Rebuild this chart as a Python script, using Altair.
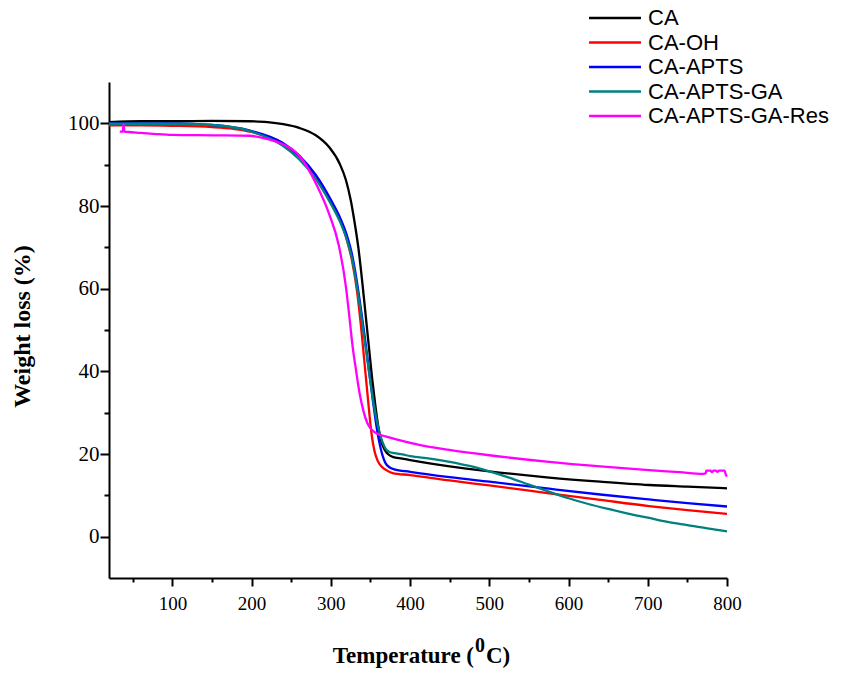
import altair as alt
import pandas as pd

series_names = ["CA", "CA-OH", "CA-APTS", "CA-APTS-GA", "CA-APTS-GA-Res"]
series_colors = ["#000000", "#ff0000", "#0000ff", "#008080", "#ff00ff"]

ca_t = [20, 60, 100, 150, 197, 220, 240, 260, 281, 298, 311, 319, 325, 330, 335, 340, 344, 348, 352, 356, 360, 364, 368, 372, 378, 390, 413, 450, 500, 575.5, 640, 701.5, 750, 800]
ca_v = [100.3, 100.5, 100.5, 100.6, 100.5, 100.3, 99.8, 98.9, 97.1, 94.2, 90.3, 86.3, 81.5, 76.0, 69.5, 61.0, 53.5, 46.0, 38.5, 32.0, 26.5, 22.8, 21.0, 20.0, 19.3, 18.9, 18.1, 17.0, 15.8, 14.3, 13.3, 12.5, 12.1, 11.7]

oh_t = [20, 60, 100, 150, 176, 200, 239, 260, 281, 300, 312, 320, 327, 333, 338, 342, 346, 349, 352, 355, 359, 364, 370, 378, 400, 450, 500, 575.5, 640, 701.5, 750, 800]
oh_v = [99.5, 99.5, 99.4, 99.1, 98.7, 97.9, 94.8, 92.0, 87.3, 81.2, 76.5, 72.0, 66.5, 59.5, 51.0, 43.0, 35.0, 29.0, 24.0, 20.8, 18.4, 17.0, 16.1, 15.4, 14.9, 13.6, 12.4, 10.5, 8.9, 7.4, 6.4, 5.5]

apts_t = [20, 60, 100, 150, 197, 239, 260, 281, 300, 312, 320, 327, 333, 338, 343, 348, 353, 357, 361, 365, 369, 374, 380, 400, 450, 500, 575.5, 640, 701.5, 750, 800]
apts_v = [100.0, 100.0, 100.0, 99.6, 98.3, 95.3, 92.2, 87.5, 81.5, 77.0, 73.0, 68.0, 61.5, 55.0, 48.0, 40.5, 33.0, 27.5, 23.0, 19.8, 17.8, 16.8, 16.3, 15.7, 14.4, 13.3, 11.6, 10.2, 9.0, 8.1, 7.3]

ga_t = [20, 60, 100, 150, 200, 239, 260, 281, 300, 312, 320, 327, 333, 338, 343, 348, 353, 357, 361, 365, 369, 374, 380, 390, 400, 425, 450, 475, 500, 525, 550, 575, 600, 625, 650, 675, 700, 725, 750, 775, 800]
ga_v = [99.9, 99.9, 99.9, 99.6, 98.0, 94.6, 91.3, 86.5, 80.5, 76.0, 72.0, 67.0, 60.5, 54.0, 47.0, 40.0, 33.5, 29.0, 25.5, 23.0, 21.3, 20.5, 20.2, 19.9, 19.5, 18.9, 18.1, 17.1, 15.8, 14.3, 12.6, 10.9, 9.3, 7.9, 6.7, 5.6, 4.6, 3.6, 2.8, 2.0, 1.3]

res_t = [33.6, 37.5, 38.2, 39.5, 45, 60, 80, 100, 150, 197, 218, 239, 260, 281, 298, 310, 319, 323.5, 327.5, 332, 336, 341, 346, 352, 360, 370, 385, 411.6, 449.5, 500, 575.5, 640, 701.5, 740, 770, 773, 774, 779, 781, 783, 786, 788, 790, 797, 798.5, 800]
res_v = [98.0, 98.0, 99.8, 98.0, 97.9, 97.7, 97.4, 97.2, 97.1, 97.0, 96.3, 95.0, 92.2, 85.5, 78.0, 70.5, 60.5, 53.0, 46.0, 40.0, 35.0, 30.5, 27.5, 25.8, 24.8, 24.2, 23.4, 22.2, 21.0, 19.7, 18.1, 17.0, 16.1, 15.6, 15.2, 15.3, 16.0, 16.0, 15.6, 16.0, 16.0, 15.7, 16.0, 16.0, 15.0, 14.6]

x_major = [100, 200, 300, 400, 500, 600, 700, 800]
x_minor = [50, 150, 250, 350, 450, 550, 650, 750]
y_major = [0, 20, 40, 60, 80, 100]
y_minor = [10, 30, 50, 70, 90]

x_title_parts = ["Temperature (", "0", "C)"]
y_title = "Weight loss (%)"

rows = []
for name, ts, vs in zip(series_names, [ca_t, oh_t, apts_t, ga_t, res_t], [ca_v, oh_v, apts_v, ga_v, res_v]):
    for i, (t, v) in enumerate(zip(ts, vs)):
        rows.append({"series": name, "T": t, "W": v, "order": i})
df = pd.DataFrame(rows)

serif = "Liberation Serif"
xscale = alt.Scale(domain=[20, 800], nice=False, zero=False)
yscale = alt.Scale(domain=[-10, 110], nice=False, zero=False)

lines = alt.Chart(df).mark_line(strokeWidth=2.3, interpolate="monotone").encode(
    x=alt.X("T:Q", scale=xscale,
            axis=alt.Axis(values=x_major, orient="bottom", title=None,
                          labelFont=serif, labelFontSize=19, labelColor="black", labelPadding=8,
                          tickSize=8, tickWidth=2, tickColor="black",
                          domainColor="black", domainWidth=2,
                          grid=False, labelFlush=False)),
    y=alt.Y("W:Q", scale=yscale,
            axis=alt.Axis(values=y_major, orient="left", title=y_title,
                          titleFont=serif, titleFontSize=24, titleFontWeight="bold", titleColor="black",
                          titleX=-80, titleY=244, titleBaseline="alphabetic", titleAngle=270, titleAnchor="middle",
                          labelFont=serif, labelFontSize=21, labelColor="black", labelPadding=1,
                          tickSize=9, tickWidth=2, tickColor="black",
                          domainColor="black", domainWidth=2,
                          grid=False, labelFlush=False)),
    color=alt.Color("series:N", sort=series_names,
                    scale=alt.Scale(domain=series_names, range=series_colors),
                    legend=alt.Legend(orient="none", legendX=495, legendY=-75, title=None,
                                      symbolType="M-3,0H3", symbolSize=300, symbolStrokeWidth=2.5,
                                      labelFont="Liberation Sans", labelFontSize=22, labelColor="black",
                                      labelOffset=22, rowPadding=2.5, labelLimit=400)),
    order="order:Q",
)

minor = alt.Chart(df).mark_point(opacity=0).encode(
    x=alt.X("T:Q", scale=xscale,
            axis=alt.Axis(values=x_minor, orient="bottom", title=None, labels=False, domain=False,
                          tickSize=4, tickWidth=2, tickColor="black", grid=False)),
    y=alt.Y("W:Q", scale=yscale,
            axis=alt.Axis(values=y_minor, orient="left", title=None, labels=False, domain=False,
                          tickSize=5, tickWidth=2, tickColor="black", grid=False)),
)

title_style = dict(font=serif, fontWeight="bold", color="black", baseline="alphabetic")
t1 = alt.Chart(pd.DataFrame({"s": [x_title_parts[0]]})).mark_text(align="right", fontSize=23, **title_style).encode(
    text="s:N", x=alt.value(365), y=alt.value(581))
t2 = alt.Chart(pd.DataFrame({"s": [x_title_parts[1]]})).mark_text(align="left", fontSize=20, **title_style).encode(
    text="s:N", x=alt.value(366), y=alt.value(570))
t3 = alt.Chart(pd.DataFrame({"s": [x_title_parts[2]]})).mark_text(align="left", fontSize=23, **title_style).encode(
    text="s:N", x=alt.value(377), y=alt.value(581))

chart = alt.layer(lines, minor, t1, t2, t3).resolve_axis(x="independent", y="independent").properties(
    width=618, height=496,
    background="white",
    autosize=alt.AutoSizeParams(type="none"),
    padding={"left": 109, "top": 82, "right": 120, "bottom": 95},
).configure_view(strokeWidth=0, stroke=None).configure_axis(
    domainColor="black", tickColor="black",
)

chart.save("out.html", embed_options={"renderer": "svg", "actions": False})
